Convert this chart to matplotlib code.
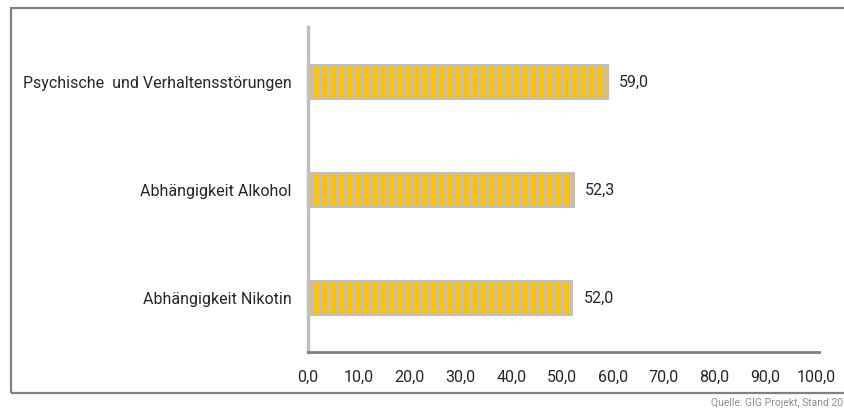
import matplotlib.pyplot as plt
from matplotlib.patches import Rectangle

# ---------- data -----------------------------------------------------------
categories = ['Psychische  und Verhaltensstörungen',
              'Abhängigkeit Alkohol',
              'Abhängigkeit Nikotin']
values = [59.0, 52.3, 52.0]
xticks = [0, 10, 20, 30, 40, 50, 60, 70, 80, 90, 100]
source = 'Quelle: GIG Projekt, Stand 20'

plt.rcParams['font.family'] = ['Roboto', 'DejaVu Sans']
plt.rcParams['hatch.linewidth'] = 2.2
plt.rcParams['hatch.color'] = '#bfbfbf'

W, H = 845, 412
fig = plt.figure(figsize=(W / 100, H / 100), dpi=100)
ax = fig.add_axes([308 / W, 1 - 352 / H, (816 - 308) / W, (352 - 27) / H])

ypos = list(range(len(categories)))
ax.barh(ypos, values, height=0.31, color='#ffc000', edgecolor='#bfbfbf',
        linewidth=1.5, hatch='||')

fs = 11.5
for y, v in zip(ypos, values):
    ax.text(v + 2.2, y, f'{v:.1f}'.replace('.', ','), va='center', ha='left',
            fontsize=fs, color='#262626')

ax.set_xlim(0, 100)
ax.set_ylim(2.5, -0.51)
ax.set_yticks(ypos)
ax.set_yticklabels(categories, fontsize=fs, color='#262626')
ax.set_xticks(xticks)
ax.set_xticklabels([f'{t:.1f}'.replace('.', ',') for t in xticks],
                   fontsize=fs, color='#262626')
ax.tick_params(length=0)
ax.tick_params(axis='y', pad=12)
ax.tick_params(axis='x', pad=13)

for s in ['top', 'right']:
    ax.spines[s].set_visible(False)
ax.spines['left'].set_color('#bfbfbf')
ax.spines['left'].set_linewidth(2.5)
ax.spines['bottom'].set_color('#808080')
ax.spines['bottom'].set_linewidth(2)
ax.spines['bottom'].set_bounds(0, 100.5)

# ---------- outer frame and source -----------------------------------------
fig.patches.append(Rectangle((11 / W, 1 - 393 / H), 1.0, (393 - 8) / H,
                             transform=fig.transFigure, fill=False,
                             edgecolor='#808080', linewidth=1.6))
fig.text(843 / W, 1 - 403 / H, source, fontsize=7.5, color='#8c8c8c',
         va='center', ha='right')

fig.savefig('out.png', dpi=100)
